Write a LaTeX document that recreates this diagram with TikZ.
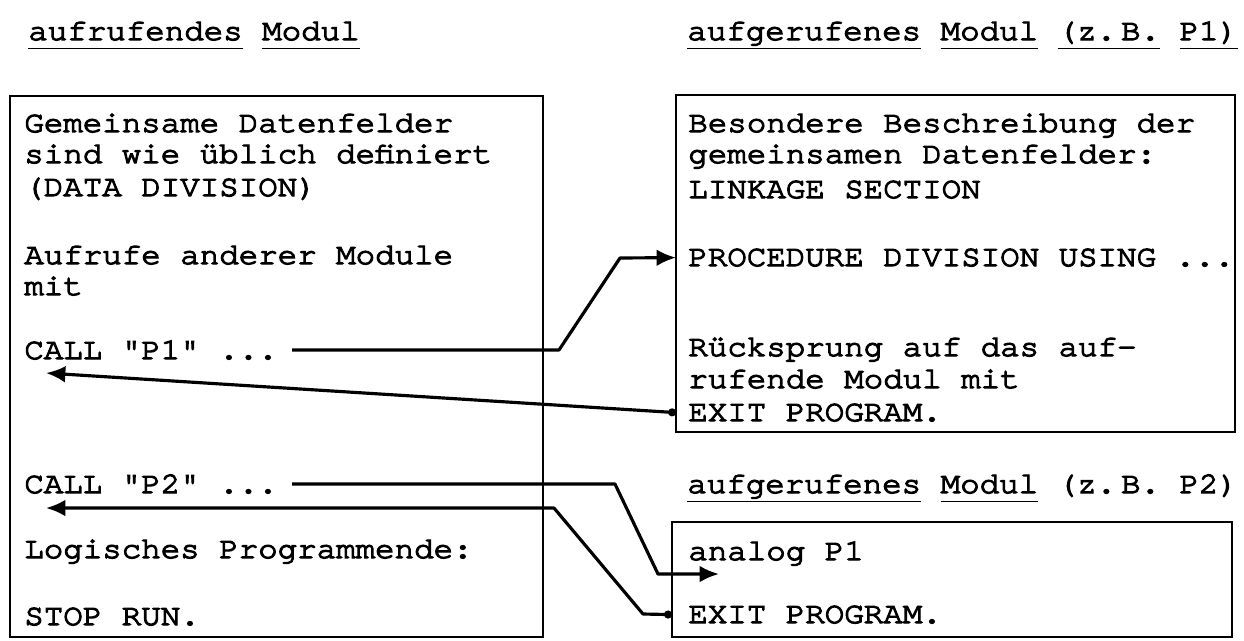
\documentclass[tikz,border=0pt]{standalone}
\usepackage{fontspec}
\newfontfamily\tw[Extension=.otf,FakeStretch=1.083,FakeBold=4]{texgyrecursor-regular}
\usetikzlibrary{calc,arrows.meta}
\newcommand{\ulw}[1]{\underline{\vphantom{g}#1}}

\begin{document}
\begin{tikzpicture}[x=0.02cm,y=-0.02cm,
    txt/.style={anchor=base west,inner sep=0pt,font={\fontsize{17.07pt}{20pt}\selectfont\tw}},
    box/.style={line width=1.6pt},
    call/.style={line width=1.8pt,line join=round,-{Latex[length=11pt,width=9.5pt]}},
    back/.style={call,{Circle[length=4.5pt]}-{Latex[length=11pt,width=9.5pt]}}]
    \useasboundingbox (0,0) rectangle (1244,640);

    \coordinate (L1) at (10,96);
    \coordinate (L2) at (543,637);
    \coordinate (R1) at (676,95);
    \coordinate (R2) at (1235,432);
    \coordinate (S1) at (672,522);
    \coordinate (S2) at (1232,637);

    \draw[box] (L1) rectangle (L2); % aufrufendes Modul
    \draw[box] (R1) rectangle (R2); % P1
    \draw[box] (S1) rectangle (S2); % P2

    % titles
    \node[txt] (caller) at (28,40) {\ulw{aufrufendes} \ulw{Modul}};
    \node[txt] (calleeA) at (687,40) {\ulw{aufgerufenes} \ulw{Modul} \ulw{(z.\,B.}\ \ulw{P1)}};
    \node[txt] (calleeB) at (687,493) {\ulw{aufgerufenes} \ulw{Modul} (z.\,B.\ P2)};

    % left box
    \node[txt] (gem) at (24,132) {Gemeinsame Datenfelder};
    \node[txt] (sind) at (24,163) {sind wie üblich definiert};
    \node[txt] (data) at (24,196) {(DATA DIVISION)};
    \node[txt] (aufr) at (24,264) {Aufrufe anderer Module};
    \node[txt] (mit) at (24,295) {mit};
    \node[txt] (callA) at (24,359) {CALL "P1" ...};
    \node[txt] (callB) at (24,493) {CALL "P2" ...};
    \node[txt] (logend) at (24,558) {Logisches Programmende:};
    \node[txt] (stop) at (24,625) {STOP RUN.};

    % right boxes
    \node[txt] (bes) at (688,132) {Besondere Beschreibung der};
    \node[txt] (gdf) at (688,163) {gemeinsamen Datenfelder:};
    \node[txt] (linkage) at (688,198) {LINKAGE SECTION};
    \node[txt] (proc) at (688,266) {PROCEDURE DIVISION USING ...};
    \node[txt] (rueck) at (688,356) {Rücksprung auf das auf-};
    \node[txt] (rufm) at (688,388) {rufende Modul mit};
    \node[txt] (exitA) at (688,421) {EXIT PROGRAM.};
    \node[txt] (analog) at (688,560) {analog P1};
    \node[txt] (exitB) at (688,623) {EXIT PROGRAM.};

    % call and return P1
    \coordinate (a1) at (559,350);
    \coordinate (a2) at (620,258);
    \draw[call] ($(callA.east)+(14,0)$) -- (a1) -- (a2) -- (proc.west -| R1);
    \coordinate (r1) at (46,373);
    \draw[back] (exitA.west -| R1) -- (r1);

    % call and return P2
    \coordinate (b1) at (615,484);
    \coordinate (b2) at (658,574);
    \coordinate (b3) at (719,574);
    \draw[call] ($(callB.east)+(14,0)$) -- (b1) -- (b2) -- (b3);
    \coordinate (d1) at (643,614);
    \coordinate (d2) at (554,508);
    \coordinate (d3) at (46,508);
    \draw[back] (exitB.west -| S1) -- (d1) -- (d2) -- (d3);
\end{tikzpicture}
\end{document}
